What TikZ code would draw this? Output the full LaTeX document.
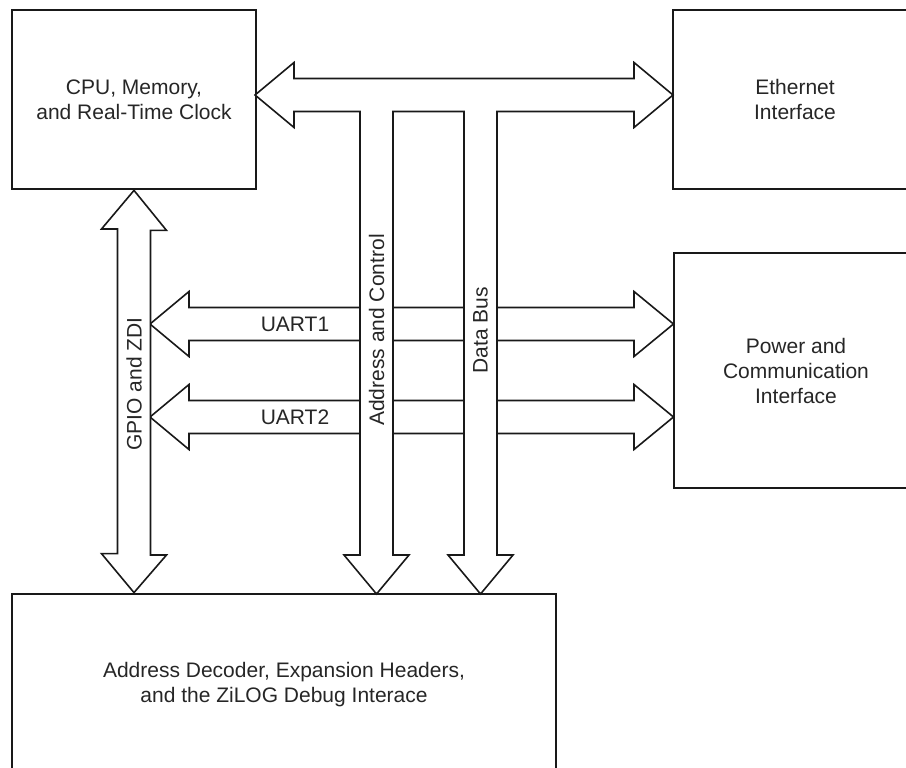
\documentclass[tikz,border=0pt]{standalone}
\usepackage{fontspec}
\setmainfont{Liberation Sans}
\tikzset{
    blockbox/.style={
        draw=black!90,
        line width=2.8pt,
        rectangle,
        align=center,
        inner sep=0pt
    },
    busline/.style={
        draw=black!90,
        fill=white,
        line width=1.6pt,
        line join=miter
    },
    buslabel/.style={inner sep=0pt, text=black!85}
}

\begin{document}
\begin{tikzpicture}[
  x=1pt, y=-1pt,
  every node/.style={font=\fontsize{21}{25}\selectfont, text=black!85}
]
\useasboundingbox (0,0) rectangle (906,768);

% blocks:
\node[blockbox, minimum width=244, minimum height=179] (cpu) at (134,99.5) {CPU, Memory,\\and Real-Time Clock};
\node[blockbox, minimum width=244, minimum height=179] (eth) at (795,99.5) {Ethernet\\Interface};
\node[blockbox, minimum width=244, minimum height=235] (pwr) at (796,370.5) {Power and\\Communication\\Interface};
\node[blockbox, minimum width=544, minimum height=182] (dbg) at (284,685) {Address Decoder, Expansion Headers,\\and the ZiLOG Debug Interace};

% UART links, drawn first so the bus stems cover them
\foreach \y/\name in {324/UART1, 417/UART2} {
  \draw[busline] (150,\y) -- ++(39,-32.5) -- ++(0,16) -- (634,\y-16.5) -- ++(0,-16)
    -- (673.5,\y) -- ++(-39.5,32.5) -- ++(0,-16) -- (189,\y+16.5) -- ++(0,16) -- cycle;
  \node[buslabel] (lbl\name) at (295,\y) {\name};
}

% shared bus: top double arrow with two stems down to the decoder
\coordinate (busL) at (255,95);
\coordinate (busR) at (673,95);
\draw[busline] (busL) -- ++(39,-32.5) -- ++(0,16) -- (634,78.5) -- ++(0,-16)
  -- (busR) -- ++(-39,32.5) -- ++(0,-16)
  -- (497,111.5) -- (497,555) -- ++(16,0) -- (480.5,594) -- ++(-32.5,-39) -- ++(16,0)
  -- (464,111.5) -- (393,111.5) -- (393,555) -- ++(16,0) -- (376.5,594) -- ++(-32.5,-39) -- ++(16,0)
  -- (360,111.5) -- (294,111.5) -- ++(0,16) -- cycle;

% GPIO link between cpu and decoder
\draw[busline] (cpu.south) -- ++(32.5,40) -- ++(-16,0) -- (150.5,555) -- ++(16,0)
  -- (dbg.north -| cpu.south) -- ++(-32.5,-39) -- ++(16,0) -- (117.5,229) -- ++(-16,0) -- cycle;

% bus labels:
\node[buslabel, rotate=90] (lblgpio) at (134,384) {GPIO and ZDI};
\node[buslabel, rotate=90] (lbladdr) at (376.5,330) {Address and Control};
\node[buslabel, rotate=90] (lbldata) at (480.5,330) {Data Bus};

\end{tikzpicture}
\end{document}
